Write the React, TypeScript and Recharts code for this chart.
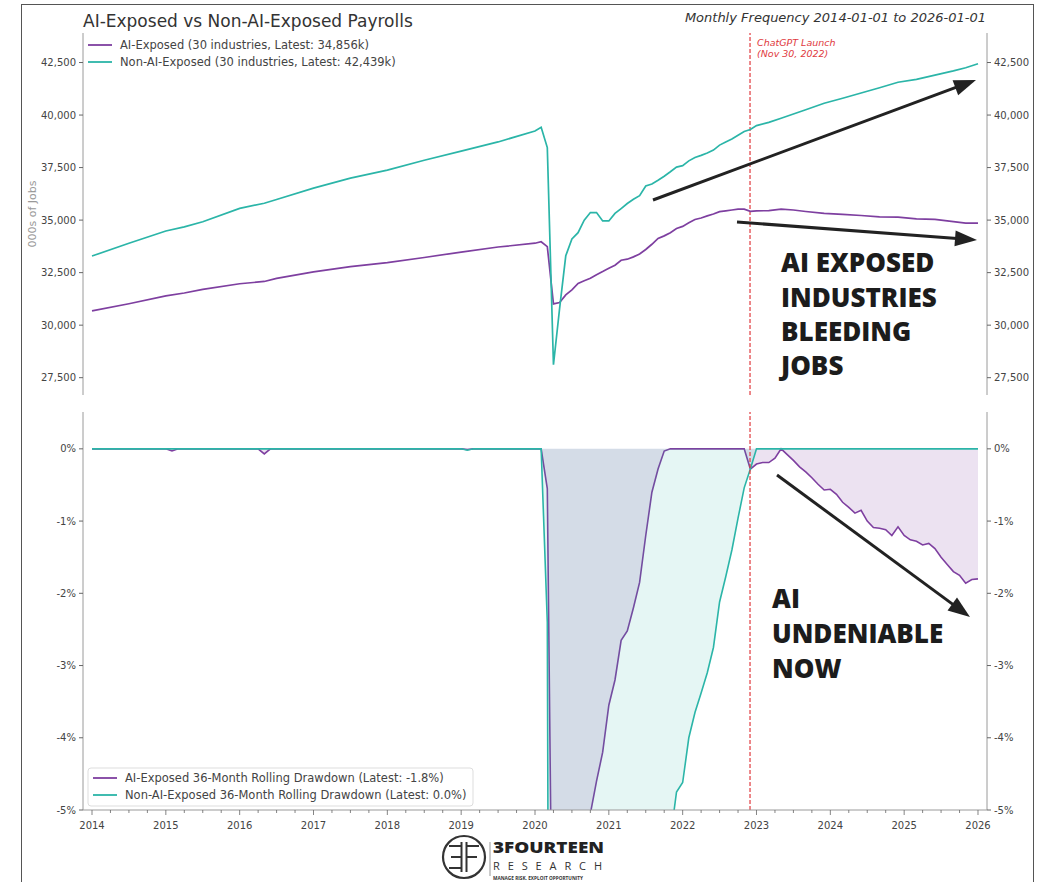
import React from 'react';
import { ComposedChart, Line, Area, XAxis, YAxis, ReferenceLine } from 'recharts';

// Payrolls (000s of jobs), sampled at the months where the lines bend
const payrollMonths = [
  '2014-01', '2014-07', '2015-01', '2015-04', '2015-07', '2016-01', '2016-05', '2016-07',
  '2017-01', '2017-07', '2018-01', '2018-07', '2019-01', '2019-07', '2020-01', '2020-02',
  '2020-03', '2020-04', '2020-05', '2020-06', '2020-07', '2020-08', '2020-09', '2020-10',
  '2020-11', '2020-12', '2021-01', '2021-02', '2021-03', '2021-04', '2021-05', '2021-06',
  '2021-07', '2021-08', '2021-09', '2021-10', '2021-11', '2021-12', '2022-01', '2022-02',
  '2022-03', '2022-04', '2022-05', '2022-06', '2022-07', '2022-08', '2022-09', '2022-10',
  '2022-11', '2022-12', '2023-01', '2023-03', '2023-05', '2023-07', '2023-09', '2023-12',
  '2024-03', '2024-06', '2024-09', '2024-12', '2025-03', '2025-06', '2025-09', '2025-11',
  '2026-01',
];
const aiPayroll = [
  30680, 31020, 31390, 31530, 31700, 31970, 32080, 32230,
  32540, 32790, 32980, 33220, 33480, 33720, 33900, 33970,
  33740, 31010, 31080, 31440, 31680, 31990, 32110, 32230,
  32400, 32550, 32710, 32850, 33090, 33140, 33250, 33390,
  33600, 33850, 34130, 34250, 34400, 34600, 34700, 34870,
  35030, 35100, 35200, 35290, 35400, 35440, 35480, 35520,
  35520, 35420, 35440, 35450, 35520, 35480, 35410, 35320,
  35270, 35220, 35150, 35140, 35060, 35030, 34930, 34860,
  34856,
];
const nonAiPayroll = [
  33290, 33900, 34480, 34680, 34920, 35560, 35800, 35980,
  36520, 37000, 37380, 37850, 38280, 38720, 39240, 39414,
  38450, 28117, 30800, 33300, 34100, 34400, 35000, 35360,
  35360, 34960, 34960, 35320, 35550, 35790, 35990, 36160,
  36620, 36720, 36900, 37090, 37300, 37520, 37590, 37820,
  37980, 38080, 38190, 38330, 38570, 38720, 38860, 39040,
  39220, 39310, 39500, 39650, 39850, 40050, 40250, 40560,
  40800, 41050, 41300, 41560, 41700, 41900, 42100, 42250,
  42439,
];

// 36-month rolling drawdown (%)
const drawdownMonths = [
  '2014-01', '2015-01', '2015-02', '2015-03', '2016-04', '2016-05', '2016-06', '2019-01',
  '2019-02', '2019-03', '2020-02', '2020-03', '2020-04', '2020-05', '2020-06', '2020-07',
  '2020-08', '2020-09', '2020-10', '2020-11', '2020-12', '2021-01', '2021-02', '2021-03',
  '2021-04', '2021-05', '2021-06', '2021-07', '2021-08', '2021-09', '2021-10', '2021-11',
  '2021-12', '2022-01', '2022-02', '2022-03', '2022-04', '2022-05', '2022-06', '2022-07',
  '2022-08', '2022-09', '2022-10', '2022-11', '2022-12', '2023-01', '2023-02', '2023-03',
  '2023-04', '2023-05', '2023-06', '2023-07', '2023-08', '2023-09', '2023-10', '2023-11',
  '2023-12', '2024-01', '2024-02', '2024-03', '2024-04', '2024-05', '2024-06', '2024-07',
  '2024-08', '2024-09', '2024-10', '2024-11', '2024-12', '2025-01', '2025-02', '2025-03',
  '2025-04', '2025-05', '2025-06', '2025-07', '2025-08', '2025-09', '2025-10', '2025-11',
  '2025-12', '2026-01',
];
const aiDrawdown = [
  0, 0, -0.03, 0, 0, -0.07, 0, 0,
  -0.01, 0, 0, -0.55, -8.7, -8.5, -7.4, -6.8,
  -5.9, -5.5, -5.05, -4.6, -4.2, -3.55, -3.2, -2.65,
  -2.52, -2.2, -1.85, -1.2, -0.6, -0.28, -0.03, 0,
  0, 0, 0, 0, 0, 0, 0, 0,
  0, 0, 0, 0, -0.28, -0.21, -0.19, -0.19,
  -0.13, 0, -0.08, -0.16, -0.25, -0.32, -0.4, -0.49,
  -0.57, -0.56, -0.63, -0.74, -0.81, -0.89, -0.85, -1.0,
  -1.09, -1.1, -1.12, -1.2, -1.08, -1.2, -1.26, -1.28,
  -1.33, -1.31, -1.38, -1.5, -1.6, -1.7, -1.75, -1.86,
  -1.81, -1.8,
];
const nonAiDrawdown = [
  0, 0, 0, 0, 0, 0, 0, 0,
  -0.02, 0, 0, -2.4, -28.7, -21.9, -15.5, -13.5,
  -12.7, -11.2, -10.3, -10.3, -11.3, -11.3, -10.4, -9.8,
  -9.2, -8.7, -8.3, -7.1, -6.8, -6.4, -5.9, -5.4,
  -4.75, -4.62, -4.0, -3.65, -3.38, -3.1, -2.75, -2.12,
  -1.77, -1.4, -0.96, -0.54, -0.28, 0, 0, 0,
  0, 0, 0, 0, 0, 0, 0, 0,
  0, 0, 0, 0, 0, 0, 0, 0,
  0, 0, 0, 0, 0, 0, 0, 0,
  0, 0, 0, 0, 0, 0, 0, 0,
  0, 0,
];

const payrollTicks = [27500, 30000, 32500, 35000, 37500, 40000, 42500];
const drawdownTicks = [0, -1, -2, -3, -4, -5];
const yearTicks = [2014, 2015, 2016, 2017, 2018, 2019, 2020, 2021, 2022, 2023, 2024, 2025, 2026];

const LAUNCH = 2022 + 333 / 365; // Nov 30, 2022

const PURPLE = '#7e3fa0';
const TEAL = '#2bb5a8';
const FRAME = '#9a9a9a';
const TICK_TEXT = '#444';
const FONT = '"DejaVu Sans", sans-serif';
const X_DOMAIN: [number, number] = [2013.878, 2026.122];

const toYear = (m: string) => {
  const [y, mo] = m.split('-').map(Number);
  return y + (mo - 1) / 12;
};

const payrollData = payrollMonths.map((m, i) => ({
  t: toYear(m),
  ai: aiPayroll[i],
  nonAi: nonAiPayroll[i],
}));

const drawdownData = drawdownMonths.map((m, i) => ({
  t: toYear(m),
  ai: aiDrawdown[i],
  nonAi: nonAiDrawdown[i],
}));

// quarterly minor ticks between the yearly labels
const xTicks = yearTicks.flatMap((y) => (y < 2026 ? [y, y + 0.25, y + 0.5, y + 0.75] : [y]));

const YearTick = (props: any) => {
  const { x, y, payload } = props;
  const v = payload.value;
  const major = Math.abs(v - Math.round(v)) < 1e-6;
  return (
    <g>
      <line x1={x} x2={x} y1={y} y2={y + (major ? 5 : 3)} stroke="#666" strokeWidth={0.8} />
      {major && (
        <text x={x} y={y + 19} textAnchor="middle" fontSize={10} fill={TICK_TEXT} fontFamily={FONT}>
          {Math.round(v)}
        </text>
      )}
    </g>
  );
};

const fmtJobs = (v: number) => v.toLocaleString('en-US');
const fmtPct = (v: number) => `${v}%`;

const tickStyle = { fill: TICK_TEXT, fontSize: 10, fontFamily: FONT };

const Arrow = ({ x1, y1, x2, y2 }: { x1: number; y1: number; x2: number; y2: number }) => {
  const dx = x2 - x1;
  const dy = y2 - y1;
  const len = Math.hypot(dx, dy);
  const ux = dx / len;
  const uy = dy / len;
  const hl = 22;
  const hw = 8;
  const bx = x2 - ux * hl;
  const by = y2 - uy * hl;
  return (
    <g>
      <line x1={x1} y1={y1} x2={bx + ux * 2} y2={by + uy * 2} stroke="#222" strokeWidth={3} />
      <polygon
        points={`${x2},${y2} ${bx - uy * hw},${by + ux * hw} ${bx + uy * hw},${by - ux * hw}`}
        fill="#222"
      />
    </g>
  );
};

const bigText = {
  fontFamily: '"Open Sans", sans-serif',
  fontWeight: 800,
  fontSize: 26,
  fill: '#1c1c1c',
};

export default function App() {
  return (
    <div
      style={{
        position: 'absolute',
        left: 0,
        top: 0,
        width: 1045,
        height: 882,
        background: '#fff',
        overflow: 'hidden',
        fontFamily: FONT,
      }}
    >
      <div
        style={{
          position: 'absolute',
          left: 21,
          top: 4,
          width: 1011,
          height: 920,
          border: '1.5px solid #555',
        }}
      />

      {/* top panel: payroll levels */}
      <div style={{ position: 'absolute', left: 0, top: 0 }}>
        <ComposedChart
          width={1045}
          height={410}
          data={payrollData}
          margin={{ top: 33, right: 0, bottom: 15, left: 0 }}
        >
          <XAxis
            type="number"
            dataKey="t"
            domain={X_DOMAIN}
            allowDataOverflow
            height={0}
            tick={false}
            tickLine={false}
            axisLine={{ stroke: FRAME }}
          />
          <XAxis
            xAxisId="top"
            orientation="top"
            type="number"
            dataKey="t"
            domain={X_DOMAIN}
            allowDataOverflow
            height={0}
            tick={false}
            tickLine={false}
            axisLine={{ stroke: FRAME }}
          />
          <YAxis
            yAxisId="left"
            type="number"
            domain={[26676, 43905]}
            allowDataOverflow
            ticks={payrollTicks}
            interval={0}
            width={83}
            tick={tickStyle}
            tickFormatter={fmtJobs}
            tickSize={4}
            tickMargin={3}
            tickLine={{ stroke: '#666' }}
            axisLine={{ stroke: FRAME }}
          />
          <YAxis
            yAxisId="right"
            orientation="right"
            type="number"
            domain={[26676, 43905]}
            allowDataOverflow
            ticks={payrollTicks}
            interval={0}
            width={58}
            tick={tickStyle}
            tickFormatter={fmtJobs}
            tickSize={4}
            tickMargin={3}
            tickLine={{ stroke: '#666' }}
            axisLine={{ stroke: FRAME }}
          />
          <ReferenceLine yAxisId="left" x={LAUNCH} stroke="#e03a3e" strokeWidth={1.2} strokeDasharray="4 2" />
          <Line
            yAxisId="left"
            type="linear"
            dataKey="ai"
            stroke={PURPLE}
            strokeWidth={1.7}
            dot={false}
            activeDot={false}
            isAnimationActive={false}
          />
          <Line
            yAxisId="left"
            type="linear"
            dataKey="nonAi"
            stroke={TEAL}
            strokeWidth={1.7}
            dot={false}
            activeDot={false}
            isAnimationActive={false}
          />
        </ComposedChart>
      </div>

      {/* bottom panel: rolling drawdowns */}
      <div style={{ position: 'absolute', left: 0, top: 400 }}>
        <ComposedChart
          width={1045}
          height={445}
          data={drawdownData}
          margin={{ top: 12, right: 0, bottom: 0, left: 0 }}
        >
          <XAxis
            type="number"
            dataKey="t"
            domain={X_DOMAIN}
            allowDataOverflow
            ticks={xTicks}
            interval={0}
            height={35}
            tick={<YearTick />}
            tickLine={false}
            tickSize={0}
            tickMargin={0}
            axisLine={{ stroke: FRAME }}
          />
          <XAxis
            xAxisId="top"
            orientation="top"
            type="number"
            dataKey="t"
            domain={X_DOMAIN}
            allowDataOverflow
            height={0}
            tick={false}
            tickLine={false}
            axisLine={{ stroke: FRAME }}
          />
          <YAxis
            yAxisId="left"
            type="number"
            domain={[-5, 0.51]}
            allowDataOverflow
            ticks={drawdownTicks}
            interval={0}
            width={83}
            tick={tickStyle}
            tickFormatter={fmtPct}
            tickSize={4}
            tickMargin={3}
            tickLine={{ stroke: '#666' }}
            axisLine={{ stroke: FRAME }}
          />
          <YAxis
            yAxisId="right"
            orientation="right"
            type="number"
            domain={[-5, 0.51]}
            allowDataOverflow
            ticks={drawdownTicks}
            interval={0}
            width={58}
            tick={tickStyle}
            tickFormatter={fmtPct}
            tickSize={4}
            tickMargin={3}
            tickLine={{ stroke: '#666' }}
            axisLine={{ stroke: FRAME }}
          />
          <Area
            yAxisId="left"
            type="linear"
            dataKey="ai"
            baseValue={0}
            stroke={PURPLE}
            strokeWidth={1.6}
            fill={PURPLE}
            fillOpacity={0.15}
            dot={false}
            activeDot={false}
            isAnimationActive={false}
          />
          <Area
            yAxisId="left"
            type="linear"
            dataKey="nonAi"
            baseValue={0}
            stroke={TEAL}
            strokeWidth={1.6}
            fill={TEAL}
            fillOpacity={0.12}
            dot={false}
            activeDot={false}
            isAnimationActive={false}
          />
          <ReferenceLine yAxisId="left" x={LAUNCH} stroke="#e03a3e" strokeWidth={1.2} strokeDasharray="4 2" />
        </ComposedChart>
      </div>

      {/* titles, legends, annotations */}
      <svg
        width={1045}
        height={882}
        style={{ position: 'absolute', left: 0, top: 0, pointerEvents: 'none' }}
      >
        <text x={83} y={27} fontSize={17} fill="#333" fontFamily={FONT}>
          AI-Exposed vs Non-AI-Exposed Payrolls
        </text>
        <text x={986} y={22} fontSize={13} fill="#333" fontFamily={FONT} fontStyle="italic" textAnchor="end">
          Monthly Frequency 2014-01-01 to 2026-01-01
        </text>

        <text
          x={0}
          y={0}
          transform="translate(36,214) rotate(-90)"
          textAnchor="middle"
          fontSize={11}
          fill="#999"
          fontFamily={FONT}
        >
          000s of Jobs
        </text>

        {/* top legend */}
        <line x1={88} x2={112} y1={45} y2={45} stroke={PURPLE} strokeWidth={1.8} />
        <text x={120} y={49} fontSize={11.5} fill="#444" fontFamily={FONT}>
          AI-Exposed (30 industries, Latest: 34,856k)
        </text>
        <line x1={88} x2={112} y1={62} y2={62} stroke={TEAL} strokeWidth={1.8} />
        <text x={120} y={66} fontSize={11.5} fill="#444" fontFamily={FONT}>
          Non-AI-Exposed (30 industries, Latest: 42,439k)
        </text>

        {/* launch label */}
        <text x={757} y={46} fontSize={9.5} fill="#e03a3e" fontStyle="italic" fontFamily={FONT}>
          ChatGPT Launch
        </text>
        <text x={757} y={57} fontSize={9.5} fill="#e03a3e" fontStyle="italic" fontFamily={FONT}>
          (Nov 30, 2022)
        </text>

        {/* bottom legend */}
        <rect x={88} y={768} width={385} height={38} rx={3} fill="#fff" fillOpacity={0.85} stroke="#ddd" />
        <line x1={93} x2={117} y1={778} y2={778} stroke={PURPLE} strokeWidth={1.8} />
        <text x={125} y={782} fontSize={11.5} fill="#444" fontFamily={FONT}>
          AI-Exposed 36-Month Rolling Drawdown (Latest: -1.8%)
        </text>
        <line x1={93} x2={117} y1={795} y2={795} stroke={TEAL} strokeWidth={1.8} />
        <text x={125} y={799} fontSize={11.5} fill="#444" fontFamily={FONT}>
          Non-AI-Exposed 36-Month Rolling Drawdown (Latest: 0.0%)
        </text>

        {/* arrows */}
        <Arrow x1={653} y1={200} x2={976} y2={80} />
        <Arrow x1={737} y1={222} x2={977} y2={240} />
        <Arrow x1={777} y1={475} x2={970} y2={617} />

        {/* callouts */}
        <text x={781} y={272} {...bigText}>AI EXPOSED</text>
        <text x={781} y={307} {...bigText}>INDUSTRIES</text>
        <text x={781} y={341} {...bigText}>BLEEDING</text>
        <text x={781} y={375} {...bigText}>JOBS</text>

        <text x={772} y={608} {...bigText}>AI</text>
        <text x={772} y={643} {...bigText}>UNDENIABLE</text>
        <text x={772} y={678} {...bigText}>NOW</text>

        {/* logo */}
        <circle cx={464} cy={857} r={21} fill="none" stroke="#333" strokeWidth={2.2} />
        <line x1={461.5} x2={461.5} y1={842} y2={872} stroke="#333" strokeWidth={2} />
        <line x1={466.5} x2={466.5} y1={842} y2={872} stroke="#333" strokeWidth={2} />
        <line x1={449} x2={461.5} y1={846} y2={846} stroke="#333" strokeWidth={2} />
        <line x1={451} x2={461.5} y1={857} y2={857} stroke="#333" strokeWidth={2} />
        <line x1={449} x2={461.5} y1={868} y2={868} stroke="#333" strokeWidth={2} />
        <line x1={466.5} x2={479} y1={846} y2={846} stroke="#333" strokeWidth={2} />
        <line x1={466.5} x2={477} y1={857} y2={857} stroke="#333" strokeWidth={2} />
        <line x1={490} x2={490} y1={842} y2={876} stroke="#999" strokeWidth={1} />
        <text
          x={493}
          y={853}
          fontSize={16}
          fontWeight={800}
          fill="#222"
          fontFamily='"Open Sans", sans-serif'
          textLength={111}
          lengthAdjust="spacingAndGlyphs"
        >
          3FOURTEEN
        </text>
        <text
          x={493}
          y={870}
          fontSize={11}
          fill="#333"
          fontFamily='"Open Sans", sans-serif'
          textLength={109}
          lengthAdjust="spacing"
        >
          RESEARCH
        </text>
        <text
          x={493}
          y={880}
          fontSize={4.5}
          fontWeight={700}
          fill="#333"
          fontFamily='"Open Sans", sans-serif'
          textLength={90}
          lengthAdjust="spacingAndGlyphs"
        >
          MANAGE RISK. EXPLOIT OPPORTUNITY
        </text>
      </svg>
    </div>
  );
}
